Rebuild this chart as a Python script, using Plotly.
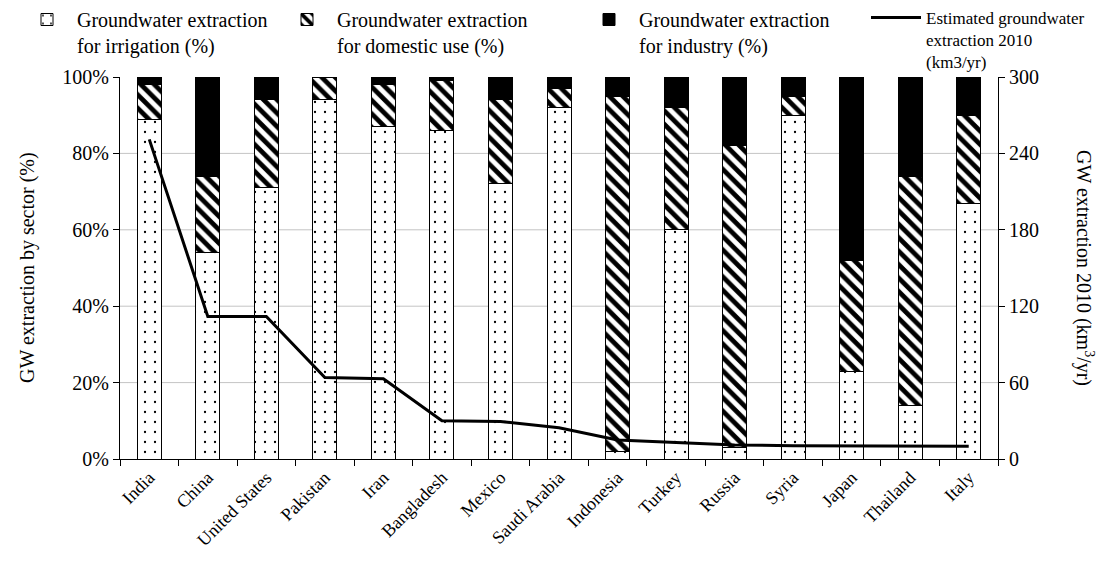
import plotly.graph_objects as go

countries = ["India", "China", "United States", "Pakistan", "Iran", "Bangladesh", "Mexico",
             "Saudi Arabia", "Indonesia", "Turkey", "Russia", "Syria", "Japan", "Thailand", "Italy"]
irrigation = [89, 54, 71, 94, 87, 86, 72, 92, 2, 60, 3, 90, 23, 14, 67]
domestic = [9, 20, 23, 6, 11, 13, 22, 5, 93, 32, 79, 5, 29, 60, 23]
industry = [2, 26, 6, 0, 2, 1, 6, 3, 5, 8, 18, 5, 48, 26, 10]
extraction_2010 = [251, 112, 112, 64, 63, 30, 29.5, 24.5, 15, 13, 11, 10.5, 10.3, 10.2, 10]

grid_levels = [20, 40, 60, 80]
left_ticks = [0, 20, 40, 60, 80, 100]
left_ticktext = ["0%", "20%", "40%", "60%", "80%", "100%"]
right_ticks = [0, 60, 120, 180, 240, 300]

FONT = "Liberation Serif, Tinos, Times New Roman, Times, DejaVu Serif, Noto Serif, serif"
W, H = 1109, 577
PL, PR, PT, PB = 120, 998, 77, 459  # plot area in px

fig = go.Figure()
fig.add_trace(go.Bar(
    x=countries, y=irrigation, name="Groundwater extraction<br>for irrigation (%)",
    legend="legend",
    marker=dict(color="white", line=dict(color="black", width=1),
                pattern=dict(shape=".", fgcolor="black", bgcolor="white", size=10, solidity=0.04,
                             fgopacity=1, fillmode="replace")),
))
fig.add_trace(go.Bar(
    x=countries, y=domestic, name="Groundwater extraction<br>for domestic use (%)",
    legend="legend2",
    marker=dict(color="white", line=dict(color="black", width=1),
                pattern=dict(shape="\\", fgcolor="black", bgcolor="white", size=9.5, solidity=0.5,
                             fgopacity=1, fillmode="replace")),
))
fig.add_trace(go.Bar(
    x=countries, y=industry, name="Groundwater extraction<br>for industry (%)",
    legend="legend3",
    marker=dict(color="black", line=dict(color="black", width=1)),
))
fig.add_trace(go.Scatter(
    x=countries, y=extraction_2010, yaxis="y2", mode="lines",
    name="Estimated groundwater<br>extraction 2010<br>(km3/yr)",
    legend="legend4",
    line=dict(color="black", width=3),
))

shapes = [dict(type="line", xref="paper", x0=PL / W, x1=PR / W, yref="y", y0=g, y1=g,
               line=dict(color="#c4c4c4", width=1), layer="below") for g in grid_levels]


def leg(xpx, size):
    return dict(orientation="h", x=xpx / W, xanchor="left", y=1.0, yanchor="top",
                font=dict(family=FONT, size=size, color="black"), valign="top", itemwidth=50,
                bgcolor="rgba(0,0,0,0)")


fig.update_layout(
    width=W, height=H,
    barmode="stack", bargap=0.59,
    plot_bgcolor="white", paper_bgcolor="white",
    font=dict(family=FONT, size=19, color="black"),
    margin=dict(l=0, r=0, t=0, b=0, autoexpand=False),
    showlegend=True,
    legend=leg(17, 20),
    legend2=leg(277, 20),
    legend3=leg(579, 20),
    legend4=leg(866, 17),
    xaxis=dict(domain=[PL / W, PR / W], tickangle=-45, tickson="boundaries", ticks="outside",
               ticklen=6, tickcolor="black", showline=True, linecolor="black", linewidth=1,
               tickfont=dict(family=FONT, size=18), showgrid=False, automargin=False),
    yaxis=dict(domain=[1 - PB / H, 1 - PT / H], range=[0, 100], tickvals=left_ticks,
               ticktext=left_ticktext, ticks="outside",
               ticklen=6, tickcolor="black", showline=True, linecolor="black",
               showgrid=False, zeroline=False, tickfont=dict(family=FONT, size=20),
               automargin=False),
    yaxis2=dict(range=[0, 300], tickvals=right_ticks, overlaying="y", side="right",
                anchor="x", ticks="outside", ticklen=6, tickcolor="black", showline=True,
                linecolor="black", showgrid=False, zeroline=False,
                tickfont=dict(family=FONT, size=20), automargin=False),
    shapes=shapes,
    annotations=[
        dict(text="GW extraction by sector (%)", xref="paper", yref="paper",
             x=27 / W, y=1 - 268 / H, textangle=-90, showarrow=False,
             font=dict(family=FONT, size=20), xanchor="center", yanchor="middle"),
        dict(text="GW extraction 2010 (km<sup>3</sup>/yr)", xref="paper", yref="paper",
             x=1085 / W, y=1 - 268 / H, textangle=90, showarrow=False,
             font=dict(family=FONT, size=20), xanchor="center", yanchor="middle"),
    ],
)

fig.write_html("out.html")
